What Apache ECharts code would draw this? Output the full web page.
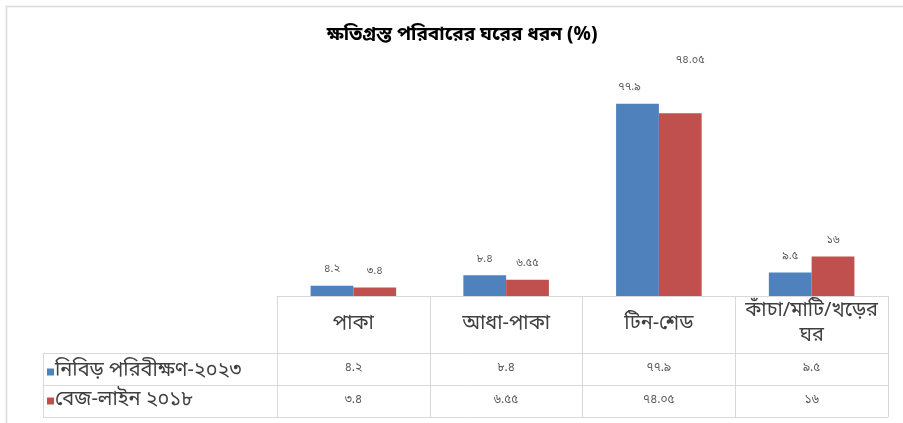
<!DOCTYPE html>
<html>
<head>
<meta charset="utf-8">
<script src="https://cdn.jsdelivr.net/npm/echarts@6/dist/echarts.min.js"></script>
<style>
html,body{margin:0;padding:0;background:#fff;}
#c{width:903px;height:423px;}
</style>
</head>
<body>
<div id="c"></div>
<script>
var titleText = 'ক্ষতিগ্রস্ত পরিবারের ঘরের ধরন (%)';
var categories = ['পাকা', 'আধা-পাকা', 'টিন-শেড', 'কাঁচা/মাটি/খড়ের\nঘর'];
var seriesNames = ['নিবিড় পরিবীক্ষণ-২০২৩', 'বেজ-লাইন ২০১৮'];
var survey2023 = [4.2, 8.4, 77.9, 9.5];
var baseline2018 = [3.4, 6.55, 74.05, 16];

var BN = '০১২৩৪৫৬৭৮৯';
function bn(v) { return String(v).replace(/[0-9]/g, function (d) { return BN[+d]; }); }

var FONT = "'Noto Sans Bengali','Noto Sans','Lohit Bengali','Vrinda',sans-serif";
var W = 903, H = 423;
var gridLeft = 277, gridRight = 888, axisY = 296;
var rowLines = [353, 385, 417];
var tableLeft = 43;
var lineColor = '#d9d9d9';

var chart = echarts.init(document.getElementById('c'), null, {renderer: 'canvas'});

var blueData = survey2023.map(function (v, i) {
  var d = {value: v};
  if (i === 2) d.label = {offset: [-8, 0]};
  return d;
});
var redData = baseline2018.map(function (v, i) {
  var d = {value: v};
  if (i === 2) d.label = {distance: 47, offset: [10, 0]};
  return d;
});

function valueAxis(idx, offset, arr) {
  return {
    type: 'category', data: categories, position: 'bottom', offset: offset,
    gridIndex: 0,
    axisLine: {show: false}, axisTick: {show: false},
    axisLabel: {
      interval: 0, margin: 16, verticalAlign: 'middle',
      color: '#595959', fontSize: 12, fontFamily: FONT,
      formatter: function (val, i) { return bn(arr[i]); }
    }
  };
}

var graphics = [
  {type: 'rect', shape: {x: 6.5, y: 6.5, width: 1000, height: 1000}, style: {fill: 'none', stroke: '#d9d9d9', lineWidth: 1.5}, silent: true}
];
rowLines.forEach(function (y) {
  graphics.push({type: 'line', shape: {x1: tableLeft, y1: y + 0.5, x2: gridRight, y2: y + 0.5}, style: {stroke: lineColor, lineWidth: 1}, silent: true});
});
graphics.push({type: 'line', shape: {x1: tableLeft + 0.5, y1: rowLines[0], x2: tableLeft + 0.5, y2: rowLines[2]}, style: {stroke: lineColor, lineWidth: 1}, silent: true});

chart.setOption({
  backgroundColor: '#fff',
  animation: false,
  title: {
    text: titleText, left: 457, textAlign: 'center', top: 22,
    textStyle: {fontFamily: FONT, fontSize: 19, fontWeight: 'bold', color: '#000'}
  },
  legend: {
    orient: 'vertical', left: 42, top: 357,
    itemWidth: 7, itemHeight: 7, itemGap: 9, icon: 'rect',
    textStyle: {fontFamily: FONT, fontSize: 20, color: '#404040', padding: [0, 0, 0, -4]},
    data: seriesNames
  },
  grid: {left: gridLeft, right: W - gridRight, bottom: H - axisY, top: 74, containLabel: false},
  xAxis: [
    {
      type: 'category', data: categories, position: 'bottom',
      axisLine: {show: true, lineStyle: {color: lineColor}},
      axisTick: {show: true, length: rowLines[2] - axisY, lineStyle: {color: lineColor}},
      axisLabel: {
        interval: 0, margin: 29, verticalAlign: 'middle', align: 'center',
        color: '#404040', fontSize: 20, lineHeight: 25, fontFamily: FONT
      }
    },
    valueAxis(1, rowLines[0] - axisY, survey2023),
    valueAxis(2, rowLines[1] - axisY, baseline2018)
  ],
  yAxis: {type: 'value', min: 0, max: 90, show: false, splitLine: {show: false}},
  series: [
    {
      name: seriesNames[0], type: 'bar', data: blueData, xAxisIndex: 0,
      barCategoryGap: '44%', barGap: '0%',
      itemStyle: {color: '#4F81BD'},
      label: {show: true, position: 'top', distance: 10, color: '#595959', fontSize: 11, fontFamily: FONT,
        formatter: function (p) { return bn(p.value); }}
    },
    {
      name: seriesNames[1], type: 'bar', data: redData, xAxisIndex: 0,
      barCategoryGap: '44%', barGap: '0%',
      itemStyle: {color: '#C0504D'},
      label: {show: true, position: 'top', distance: 10, color: '#595959', fontSize: 11, fontFamily: FONT,
        formatter: function (p) { return bn(p.value); }}
    }
  ],
  graphic: graphics
});
</script>
</body>
</html>
